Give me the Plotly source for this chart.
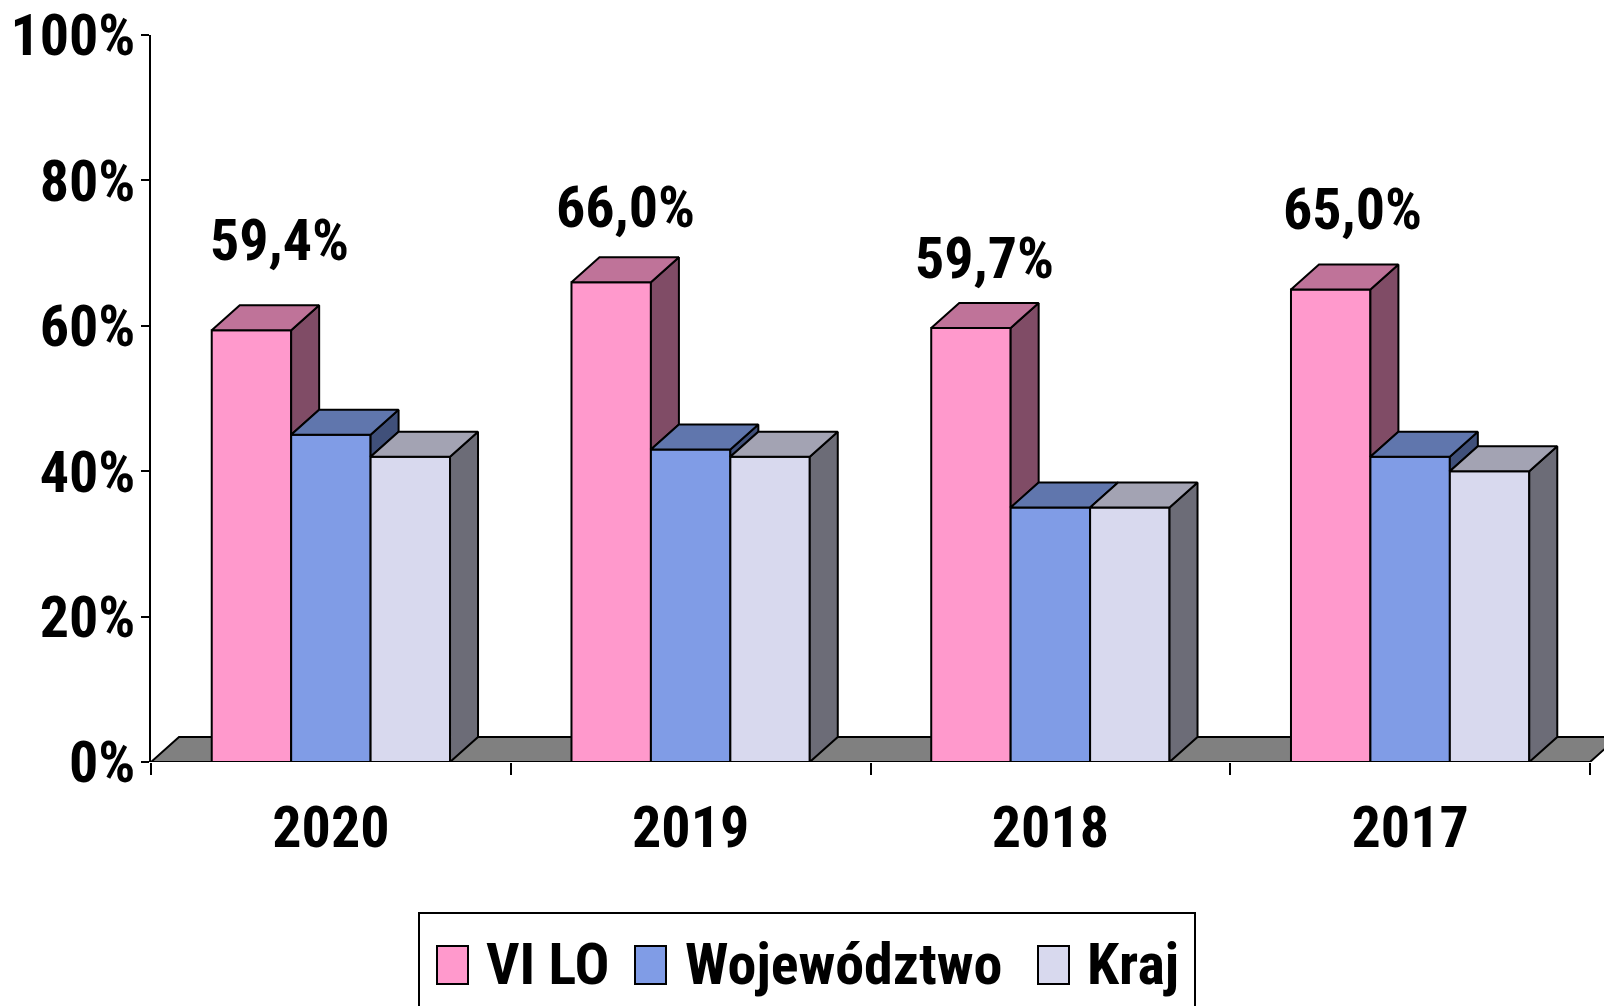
import plotly.graph_objects as go

# ---------------- data ----------------
years = ["2020", "2019", "2018", "2017"]
series_names = ["VI LO", "Województwo", "Kraj"]
vi_lo = [59.4, 66.0, 59.7, 65.0]
wojewodztwo = [45.0, 43.0, 35.0, 42.0]
kraj = [42.0, 42.0, 35.0, 40.0]
vi_lo_labels = ["59,4%", "66,0%", "59,7%", "65,0%"]
y_tick_values = [0, 20, 40, 60, 80, 100]
y_tick_labels = ["0%", "20%", "40%", "60%", "80%", "100%"]

# ---------------- style ----------------
FONT = "Liberation Sans Narrow, Arial Narrow, Roboto Condensed, DejaVu Sans Condensed, sans-serif"
FS = 58
front_colors = ["#FF99CC", "#809CE6", "#D8D9EE"]
top_colors = ["#BF7399", "#6076AD", "#A3A3B3"]
side_colors = ["#804C66", "#40507A", "#6C6C77"]
floor_color = "#808080"
EDGE = "black"
LW = 2
# hand-placed label nudges (pixels)
label_xshift = [14, 0, 0, 8]
label_yshift = [29, 14, 9, 19]

# page body margin is removed by a post script, so the figure fills the window
W, H = 1604, 1006
ML, MR, MT, MB = 151, 0, 35, 244
plot_w = W - ML - MR
plot_h = H - MT - MB
px_per_cat = 359.75
x_min = -0.5
x_max = x_min + plot_w / px_per_cat
px_per_pct = plot_h / 100.0

dx = 28 / px_per_cat          # depth offset in data units
dy = 25 / px_per_pct
bargap = 0.3376
group_w = 1 - bargap
bar_w = group_w / 3

series = [vi_lo, wojewodztwo, kraj]
xs = list(range(len(years)))

fig = go.Figure()

# front faces as real bars
for name, vals, col in zip(series_names, series, front_colors):
    fig.add_trace(go.Bar(
        x=xs, y=vals, name=name, marker=dict(color=col, line=dict(color=EDGE, width=LW)),
        showlegend=False, hovertemplate=name + ": %{y}%<extra></extra>"))

# 3D top and side faces
def poly(px, py, color):
    fig.add_trace(go.Scatter(
        x=px, y=py, mode="lines", fill="toself", fillcolor=color,
        line=dict(color=EDGE, width=LW), hoverinfo="skip", showlegend=False))

for gi, c in enumerate(xs):
    for si in range(3):
        v = series[si][gi]
        x0 = c - group_w / 2 + si * bar_w
        x1 = x0 + bar_w
        nxt = series[si + 1][gi] if si < 2 else 0.0
        if nxt < v:
            poly([x1, x1, x1 + dx, x1 + dx, x1],
                 [nxt, v, v + dy, nxt + dy, nxt], side_colors[si])
        poly([x0, x0 + dx, x1 + dx, x1, x0],
             [v, v + dy, v + dy, v, v], top_colors[si])

# floor
fig.add_shape(type="path", xref="x", yref="y", layer="below",
              path=f"M {x_min},0 L {len(years) - 0.5},0 L {len(years) - 0.5 + dx},{dy} L {x_min + dx},{dy} Z",
              fillcolor=floor_color, line=dict(color=EDGE, width=LW))

# data labels for VI LO
for gi, c in enumerate(xs):
    fig.add_annotation(x=c - group_w / 2 + bar_w / 2 + dx / 2, y=vi_lo[gi] + dy,
                       text=vi_lo_labels[gi], showarrow=False, yanchor="bottom",
                       xshift=label_xshift[gi], yshift=label_yshift[gi],
                       font=dict(family=FONT, size=FS, color="black", weight="bold"))

# manual legend (large swatches); positions given in window pixels
def px2x(p):
    return (p - ML) / plot_w

def py2y(p):
    return (H - MB - p) / plot_h

fig.add_shape(type="rect", xref="paper", yref="paper",
              x0=px2x(419), x1=px2x(1195), y0=py2y(1020), y1=py2y(913),
              line=dict(color=EDGE, width=LW), fillcolor="white")
legend_sw_left = [437, 635, 1038]
legend_text_left = [484, 683, 1085]
for i, name in enumerate(series_names):
    fig.add_shape(type="rect", xref="paper", yref="paper",
                  x0=px2x(legend_sw_left[i]), x1=px2x(legend_sw_left[i] + 31),
                  y0=py2y(984), y1=py2y(946),
                  line=dict(color=EDGE, width=LW), fillcolor=front_colors[i])
    fig.add_annotation(xref="paper", yref="paper", x=px2x(legend_text_left[i]), y=py2y(964),
                       text=name, showarrow=False, xanchor="left", yanchor="middle",
                       font=dict(family=FONT, size=FS, color="black", weight="bold"))

fig.update_layout(
    width=W, height=H,
    margin=dict(l=ML, r=MR, t=MT, b=MB, autoexpand=False),
    paper_bgcolor="white", plot_bgcolor="white",
    barmode="group", bargap=bargap, bargroupgap=0,
    showlegend=False,
    font=dict(family=FONT, size=FS, color="black", weight="bold"),
)
fig.update_xaxes(
    range=[x_min, x_max], tickmode="array", tickvals=xs, ticktext=years,
    ticks="", showline=False, showgrid=False, zeroline=False, automargin=False,
    tickfont=dict(family=FONT, size=FS, color="black", weight="bold"),
    ticklabelstandoff=26, ticklabeloverflow="allow",
    minor=dict(tickmode="array", tickvals=[x - 0.5 for x in xs] + [len(years) - 0.5],
               ticks="outside", ticklen=12, tickwidth=LW, tickcolor=EDGE, showgrid=False),
)
fig.update_yaxes(
    range=[0, 100], tickmode="array", tickvals=y_tick_values, ticktext=y_tick_labels,
    ticks="outside", ticklen=8, tickwidth=LW, tickcolor=EDGE,
    showline=True, linewidth=LW, linecolor=EDGE, showgrid=False, zeroline=False,
    automargin=False, ticklabelstandoff=-6, ticklabeloverflow="allow",
    tickfont=dict(family=FONT, size=FS, color="black", weight="bold"),
)

fig.write_html("out.html", config={"displayModeBar": False},
               post_script="document.body.style.margin='0';document.body.style.overflow='hidden';")
